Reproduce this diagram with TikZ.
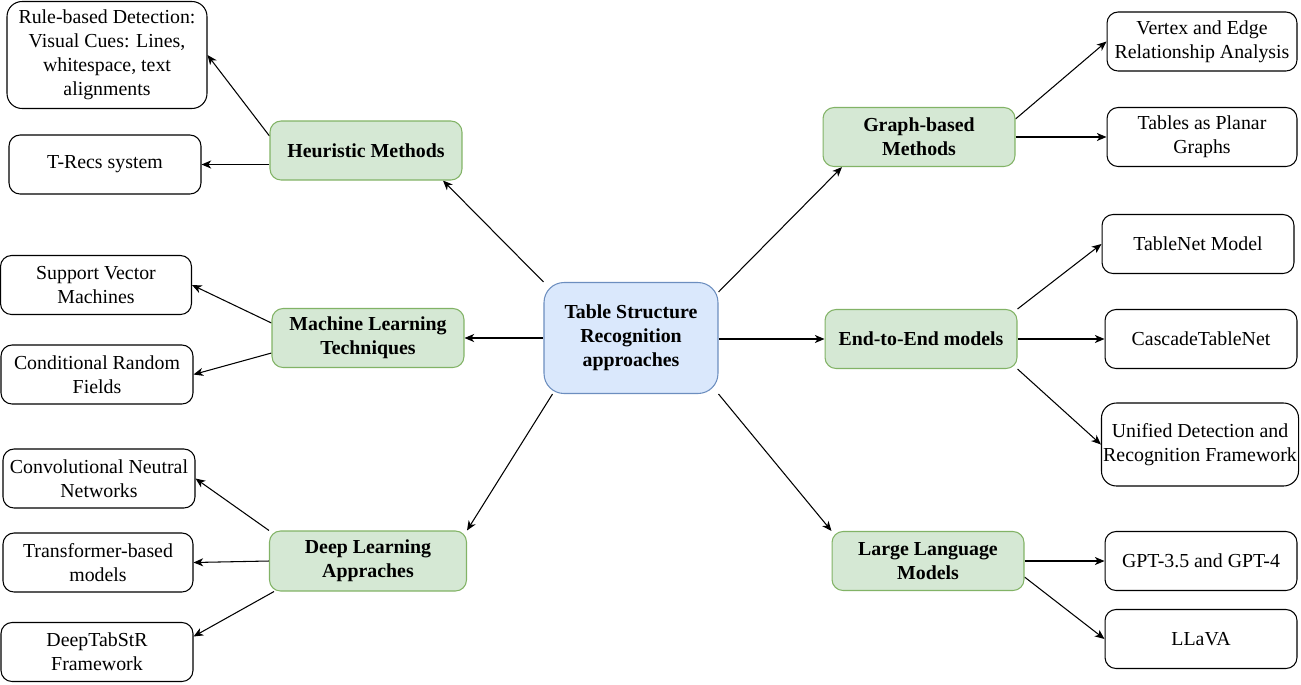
\documentclass[tikz,border=0pt]{standalone}
\usepackage{fontspec}
\setmainfont{Liberation Serif}
\usetikzlibrary{arrows.meta, positioning, backgrounds}
\definecolor{branchfill}{HTML}{D5E8D4}
\definecolor{branchline}{HTML}{82B366}
\definecolor{rootfill}{HTML}{DAE8FC}
\definecolor{rootline}{HTML}{6C8EBF}

\tikzset{
  box/.style={rectangle, rounded corners=0.22cm, draw=black, line width=0.6pt,
    align=center, inner sep=1pt, minimum width=3.84cm, minimum height=1.18cm,
    font=\fontsize{11.3}{13.7}\selectfont},
  branch/.style={box, fill=branchfill, draw=branchline,
    font=\fontsize{11.3}{13.7}\selectfont\bfseries},
  root/.style={box, fill=rootfill, draw=rootline, rounded corners=0.4cm,
    minimum width=3.48cm, minimum height=2.22cm,
    font=\fontsize{11.3}{13.7}\selectfont\bfseries},
  arr/.style={-{Stealth[length=5.5pt, width=4.6pt, inset=1.6pt]}, line width=0.6pt},
}

\begin{document}
\begin{tikzpicture}[x=0.02cm, y=-0.02cm]
    \useasboundingbox (0,0) rectangle (1301,684);

    % centre
    \node[root] (tsr) at (631,338) {Table Structure\\Recognition\\approaches};

    % left side
    \node[branch] (heur) at (366,150.5) {Heuristic Methods};
    \node[box, minimum width=4cm, minimum height=2.14cm, rounded corners=0.3cm] (rule) at (107,55)
        {Rule-based Detection:\\Visual Cues: Lines,\\whitespace, text\\alignments};
    \node[box] (trecs) at (105,164.5) {T-Recs system};

    \node[branch] (ml) at (368,338) {Machine Learning\\Techniques};
    \node[box, minimum width=3.82cm] (svm) at (96,285) {Support Vector\\Machines};
    \node[box] (crf) at (97,374.5) {Conditional Random\\Fields};

    \node[branch, minimum width=3.94cm, minimum height=1.2cm] (dl) at (368,561) {Deep Learning\\Appraches};
    \node[box] (cnn) at (99,478.5) {Convolutional Neutral\\Networks};
    \node[box, minimum width=3.8cm] (trans) at (98,562.5) {Transformer-based\\models};
    \node[box] (dts) at (97,652) {DeepTabStR\\Framework};

    % right side
    \node[branch] (graph) at (919,137) {Graph-based\\Methods};
    \node[box, minimum width=3.8cm] (vertex) at (1202,41.5) {Vertex and Edge\\Relationship Analysis};
    \node[box, minimum width=3.8cm] (planar) at (1202,137) {Tables as Planar\\Graphs};

    \node[branch] (e2e) at (921,339) {End-to-End models};
    \node[box] (tnet) at (1198,244) {TableNet Model};
    \node[box] (ctnet) at (1201,339) {CascadeTableNet};
    \node[box, minimum width=3.92cm, minimum height=1.66cm, rounded corners=0.3cm] (unified) at (1200,444.5)
        {Unified Detection and\\Recognition Framework};

    \node[branch] (llm) at (928,561) {Large Language\\Models};
    \node[box] (gpt) at (1201,561) {GPT-3.5 and GPT-4};
    \node[box] (llava) at (1201,639) {LLaVA};

    \begin{scope}[on background layer]
        % from the centre
        \draw[arr] (tsr.north west) -- ([xshift=1.54cm]heur.south);
        \draw[arr] (tsr.west) -- (ml.east);
        \draw[arr] ([xshift=0.18cm]tsr.south west) -- (dl.north east);
        \draw[arr] ([yshift=-0.2cm]tsr.north east) -- ([xshift=-1.54cm]graph.south);
        \draw[arr] (tsr.east |- e2e.west) -- (e2e.west);
        \draw[arr] (tsr.south east) -- (llm.north west);

        % branches
        \draw[arr] ([yshift=0.29cm]heur.west) -- (rule.east);
        \draw[arr] (trecs.east -| heur.west) -- (trecs.east);
        \draw[arr] ([yshift=0.3cm]ml.west) -- (svm.east);
        \draw[arr] ([yshift=-0.3cm]ml.west) -- (crf.east);
        \draw[arr] (dl.north west) -- (cnn.east);
        \draw[arr] (dl.west) -- (trans.east);
        \draw[arr] ([xshift=0.1cm]dl.south west) -- ([yshift=0.31cm]dts.east);

        \draw[arr] ([yshift=0.36cm]graph.east) -- (vertex.west);
        \draw[arr] (graph.east) -- (planar.west);
        \draw[arr] (e2e.north east) -- (tnet.west);
        \draw[arr] (e2e.east) -- (ctnet.west);
        \draw[arr] (e2e.south east) -- (unified.west);
        \draw[arr] (llm.east) -- (gpt.west);
        \draw[arr] ([yshift=-0.32cm]llm.east) -- (llava.west);
    \end{scope}
\end{tikzpicture}
\end{document}
